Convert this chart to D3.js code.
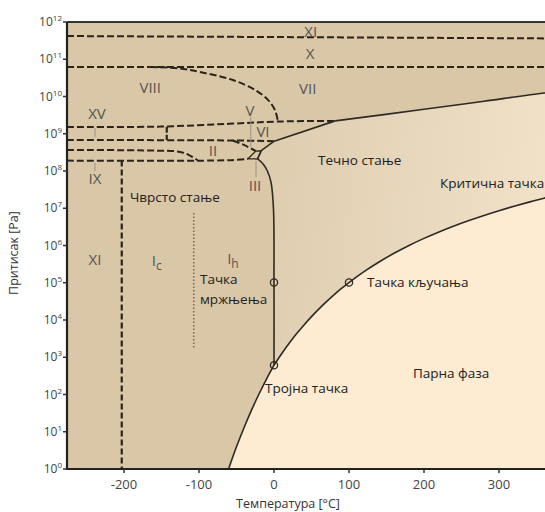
<!DOCTYPE html>
<html><head><meta charset="utf-8">
<script src="https://cdn.jsdelivr.net/npm/d3@7"></script>
<style>body{margin:0;background:#fff}svg{display:block}</style>
</head><body>
<svg id="chart" width="545" height="512"></svg>
<script>
// ---------- DATA (temperature °C, pressure Pa) ----------
const tempTicks = [-200, -100, 0, 100, 200, 300];
const pressureExponents = [0, 1, 2, 3, 4, 5, 6, 7, 8, 9, 10, 11, 12];

const sublimationCurve = [[-62,0.82],[-60,1.08],[-50,3.94],[-40,12.84],[-30,38.1],[-20,103.3],[-10,259.9],[0.01,611.657]];
const vaporizationCurve = [[0.01,611.657],[10,1228],[20,2339],[30,4246],[40,7384],[50,12352],[60,19946],[70,31201],[80,47414],[90,70182],[100,101325],[120,198700],[140,361500],[160,618200],[180,1002800],[200,1554900],[220,2319600],[240,3346900],[260,4692300],[280,6416600],[300,8587900],[320,11284000],[340,14601000],[360,18666000],[373.95,22064000]];
const meltingIh = [[0.01,611.657],[0,101325],[-0.74,1e7],[-4,5e7],[-8.8,1e8],[-14,1.5e8],[-20.2,2e8],[-21.985,2.099e8]];
const meltingIII = [[-21.985,2.099e8],[-17,3.501e8]];
const meltingV = [[-17,3.501e8],[0.16,6.324e8]];
const meltingVI = [[0.16,6.324e8],[81.6,2.216e9]];
const meltingVII = [[81.6,2.216e9],[200,4.53e9],[280,7.48e9],[361,1.24e10],[400,1.5e10]];
const supercriticalEdge = [[373.95,22064000],[400,22064000],[400,1.5e10]];

// solid-solid boundaries (dashed)
const boundaryXI_X = [[-276,4.2e11],[400,3.6e11]];
const boundaryX_VII = [[-276,6.2e10],[400,6.2e10]];
const boundaryVIII_VII = [[-165,6.2e10],[-125,5.65e10],[-99,4.55e10],[-55,2.77e10],[-25,1.49e10],[-8,8.1e9],[1.3,4.3e9],[5.3,2.12e9]];
const boundaryVIII_XV_VI = [[-276,1.52e9],[-150,1.56e9],[-60,1.85e9],[8,2.13e9],[81.6,2.216e9]];
const boundaryXV_VI = [[-143,1.55e9],[-143,6.75e8]];
const boundaryII_V_VI = [[-276,6.8e8],[-55,6.6e8],[0.16,6.324e8]];
const boundaryII_V = [[-55,6.6e8],[-40,5.0e8],[-24.3,3.44e8]];
const boundaryXIII = [[-276,3.65e8],[-165,3.55e8],[-125,3.25e8],[-112,2.6e8],[-102,1.96e8]];
const boundaryIh_II = [[-276,1.9e8],[-60,1.95e8],[-34.7,2.129e8]];
const boundaryXI_Ic = [[-203,1.9e8],[-203,0.5]];
const boundaryIc_Ih = [[-107,7.5e6],[-107,1.8e3]];
// phase III box (solid thin)
const boxIII = [[-34.7,2.129e8],[-24.3,3.44e8],[-17,3.501e8],[-21.985,2.099e8],[-34.7,2.129e8]];

// leader lines from labels
const leaderLines = [
  [[-238.7,1.43e9],[-238.7,8.2e8]],
  [[-238.7,1.64e8],[-238.7,1.0e8]],
  [[-31,2.8e9],[-31,4.4e8]],
  [[-24,1.85e8],[-24,6.9e7]]
];

const specialPoints = [[0.01,611.657],[0,101325],[100,101325]];

const phaseLabels = [
  ["XI", 49, 5.7e11], ["X", 48, 1.47e11], ["VII", 45, 1.69e10], ["VIII", -165, 1.8e10],
  ["XV", -236, 3.6e9], ["V", -32, 4.34e9], ["VI", -14.7, 1.19e9], ["II", -81.3, 3.66e8],
  ["III", -25.3, 4.2e7], ["IX", -238.7, 6.5e7], ["XI", -238.7, 4.3e5]
];
const subLabels = [["I","c",-163,4.0e5],["I","h",-62.5,4.6e5]];
const textLabels = [
  ["Чврсто стање", -192, 2.0e7], ["Тачка", -98.7, 1.26e5], ["мржњења", -98.7, 3.66e4],
  ["Тројна тачка", -12, 149], ["Тачка кључања", 124, 1.05e5], ["Течно стање", 58.7, 1.97e8],
  ["Критична тачка", 221.3, 4.76e7], ["Парна фаза", 185.3, 378]
];
const xTitle = "Температура  [°C]";
const yTitle = "Притисак [Pa]";

// ---------- SCALES ----------
const svg = d3.select("#chart");
const x = d3.scaleLinear().domain([-276, 400]).range([67, 574]);
const y = d3.scaleLog().domain([1, 1e12]).range([469, 22]);
const FONT = "'Open Sans', 'Noto Sans', sans-serif";

const defs = svg.append("defs");
defs.append("clipPath").attr("id","plot").append("rect")
  .attr("x", x(-276)).attr("y", y(1e12)).attr("width", x(400)-x(-276)).attr("height", y(1)-y(1e12));
const grad = defs.append("linearGradient").attr("id","liq").attr("gradientUnits","userSpaceOnUse")
  .attr("x1", x(0)).attr("y1", y(1e8)).attr("x2", x(370)).attr("y2", y(1e7));
grad.append("stop").attr("offset","0").attr("stop-color","#dfcdb0");
grad.append("stop").attr("offset","1").attr("stop-color","#f1e2c9");

const g = svg.append("g").attr("clip-path","url(#plot)");
const curve = d3.line().x(d=>x(d[0])).y(d=>y(d[1])).curve(d3.curveCatmullRom.alpha(0.5));
const lin = d3.line().x(d=>x(d[0])).y(d=>y(d[1]));
const rev = a => a.slice().reverse();
const join = parts => parts.map((p,i)=> i ? p.replace(/^M/,"L") : p).join("") + "Z";

// background (solid phases)
g.append("rect").attr("x", x(-276)).attr("y", y(1e12)).attr("width", x(400)-x(-276)).attr("height", y(1)-y(1e12)).attr("fill","#d9c7a7");

// liquid region
g.append("path").attr("fill","url(#liq)").attr("d", join([
  curve(vaporizationCurve), lin(supercriticalEdge), curve(rev(meltingVII)), lin(rev(meltingVI)),
  lin(rev(meltingV)), lin(rev(meltingIII)), curve(rev(meltingIh))
]));
// vapour region
g.append("path").attr("fill","#fdebd2").attr("d", join([
  curve(sublimationCurve), curve(vaporizationCurve), lin([[373.95,22064000],[400,22064000],[400,0.5],[-62,0.5],[-62,0.82]])
]));

// dashed boundaries
const dashed = [boundaryXI_X, boundaryX_VII, boundaryVIII_VII, boundaryVIII_XV_VI, boundaryII_V_VI, boundaryII_V, boundaryXIII, boundaryIh_II];
dashed.forEach(b => g.append("path").attr("d", curve(b)).attr("fill","none")
  .attr("stroke","#2a241c").attr("stroke-width",2).attr("stroke-dasharray","7,3"));
g.append("path").attr("d", lin(boundaryXV_VI)).attr("fill","none").attr("stroke","#2a241c").attr("stroke-width",2.2).attr("stroke-dasharray","6,2");
g.append("path").attr("d", lin(boundaryXI_Ic)).attr("fill","none").attr("stroke","#2a241c").attr("stroke-width",2.2).attr("stroke-dasharray","6,3");
g.append("path").attr("d", lin(boundaryIc_Ih)).attr("fill","none").attr("stroke","#7d6d5a").attr("stroke-width",1.6).attr("stroke-dasharray","1.5,2");

// solid boundaries
[sublimationCurve, vaporizationCurve, meltingIh, meltingVII].forEach(b => g.append("path").attr("d", curve(b))
  .attr("fill","none").attr("stroke","#2e2a25").attr("stroke-width",1.6));
[meltingIII, meltingV, meltingVI].forEach(b => g.append("path").attr("d", lin(b))
  .attr("fill","none").attr("stroke","#2e2a25").attr("stroke-width",1.6));
g.append("path").attr("d", lin(boxIII)).attr("fill","none").attr("stroke","#2e2a25").attr("stroke-width",1.3);

// leader lines
leaderLines.forEach(l => g.append("path").attr("d", lin(l)).attr("fill","none").attr("stroke","#9a9088").attr("stroke-width",1));

// markers
g.selectAll("circle.pt").data(specialPoints).join("circle").attr("class","pt")
  .attr("cx", d=>x(d[0])).attr("cy", d=>y(d[1])).attr("r",3.6)
  .attr("fill","none").attr("stroke","#2e2a25").attr("stroke-width",1.3);

// phase labels
g.selectAll("text.ph").data(phaseLabels).join("text").attr("class","ph")
  .attr("x", d=>x(d[1])).attr("y", d=>y(d[2])).attr("text-anchor","middle").attr("dominant-baseline","central")
  .attr("font-family", FONT).attr("font-size", 15).attr("fill","#555").text(d=>d[0]);
subLabels.forEach(d => {
  const t = g.append("text").attr("x", x(d[2])).attr("y", y(d[3])).attr("dominant-baseline","central")
    .attr("font-family", FONT).attr("font-size", 15).attr("fill","#555");
  t.append("tspan").text(d[0]);
  t.append("tspan").attr("dy", 5).attr("font-size", 12).text(d[1]);
});
g.selectAll("text.lb").data(textLabels).join("text").attr("class","lb")
  .attr("x", d=>x(d[1])).attr("y", d=>y(d[2])).attr("dominant-baseline","central")
  .attr("font-family", FONT).attr("font-size", 13.5).attr("fill","#222").text(d=>d[0]);

// axes frame
svg.append("line").attr("x1", x(-276)).attr("x2", 545).attr("y1", y(1e12)).attr("y2", y(1e12)).attr("stroke","#333").attr("stroke-width",2);
svg.append("line").attr("x1", x(-276)).attr("x2", x(-276)).attr("y1", y(1e12)).attr("y2", y(1)+1).attr("stroke","#222").attr("stroke-width",2.2);
svg.append("line").attr("x1", x(-276)-1).attr("x2", 545).attr("y1", y(1)).attr("y2", y(1)).attr("stroke","#222").attr("stroke-width",2.2);

// y ticks
const yt = svg.append("g");
pressureExponents.forEach(e => {
  const yy = y(Math.pow(10, e));
  yt.append("line").attr("x1", x(-276)-4).attr("x2", x(-276)).attr("y1", yy).attr("y2", yy).attr("stroke","#333").attr("stroke-width",1.5);
  const t = yt.append("text").attr("x", x(-276)-5).attr("y", yy+4).attr("text-anchor","end")
    .attr("font-family", FONT).attr("font-size", 12).attr("fill","#444");
  t.append("tspan").text("10");
  t.append("tspan").attr("dy", -5).attr("font-size", 8).text(e);
});
// x ticks
const xt = svg.append("g");
tempTicks.forEach(v => {
  xt.append("line").attr("x1", x(v)).attr("x2", x(v)).attr("y1", y(1)).attr("y2", y(1)+4).attr("stroke","#333").attr("stroke-width",1.5);
  xt.append("text").attr("x", x(v)).attr("y", y(1)+20).attr("text-anchor","middle")
    .attr("font-family", FONT).attr("font-size", 13).attr("fill","#444").text(v);
});
// titles
svg.append("text").attr("x", 288).attr("y", 508).attr("text-anchor","middle")
  .attr("font-family", FONT).attr("font-size", 12.5).attr("fill","#333").text(xTitle);
svg.append("text").attr("transform","translate(18,253) rotate(-90)").attr("text-anchor","middle")
  .attr("font-family", FONT).attr("font-size", 12.5).attr("fill","#333").text(yTitle);
</script>
</body></html>
